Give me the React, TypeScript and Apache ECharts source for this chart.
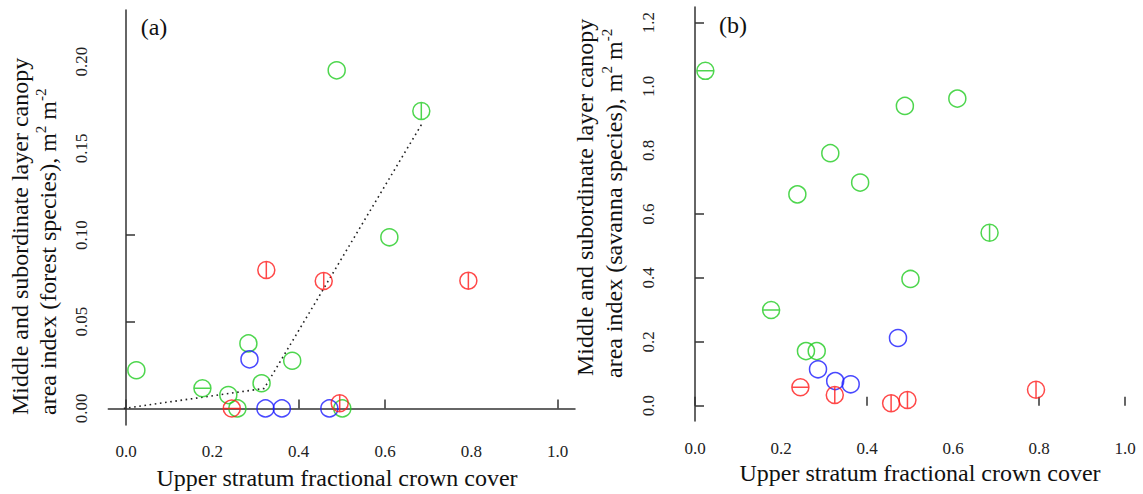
import { useEffect, useRef } from 'react';
import * as echarts from 'echarts';

// ---- tick labels / tick marks ----
const xLabelValues = [0, 0.2, 0.4, 0.6, 0.8, 1.0];
const yLabelValuesA = [0, 0.05, 0.1, 0.15, 0.2];
const yLabelValuesB = [0, 0.2, 0.4, 0.6, 0.8, 1.0, 1.2];
const xTickMarksA = [0, 0.4, 0.6, 1.0];
const yTickMarksA = [0.05, 0.1];
const xTickMarksB = [0, 0.4, 0.8, 1.0];
const yTickMarksB = [0, 0.2, 0.4, 0.6, 1.2];

// ---- panel (a): forest species ----
const aGreenPlain = [[0.024, 0.022], [0.237, 0.0077], [0.258, 0.0], [0.2835, 0.0375], [0.314, 0.0145], [0.385, 0.0275], [0.501, 0.0], [0.488, 0.195], [0.61, 0.0987]];
const aGreenH = [[0.177, 0.0116]];
const aGreenV = [[0.684, 0.1715]];
const aBlue = [[0.286, 0.0283], [0.323, 0.0], [0.361, 0.0], [0.471, 0.0]];
const aRedV = [[0.325, 0.0798], [0.458, 0.0735], [0.495, 0.003], [0.793, 0.0737]];
const aRedH = [[0.245, 0.0]];
const aFit = [[-0.005, 0.0], [0.32, 0.0115], [0.686, 0.1644]];

// ---- panel (b): savanna species ----
const bGreenPlain = [[0.488, 0.939], [0.61, 0.962], [0.3146, 0.791], [0.384, 0.699], [0.238, 0.662], [0.501, 0.397], [0.258, 0.171], [0.283, 0.171]];
const bGreenH = [[0.024, 1.049], [0.177, 0.3]];
const bGreenV = [[0.685, 0.542]];
const bBlue = [[0.472, 0.212], [0.286, 0.114], [0.326, 0.077], [0.362, 0.067]];
const bRedH = [[0.245, 0.0576]];
const bRedV = [[0.325, 0.0335], [0.456, 0.0075], [0.494, 0.018], [0.793, 0.05]];

const GREEN = '#22cc22';
const BLUE = '#1a1aff';
const RED = '#ff1a1a';
const FONT = "'Liberation Serif', 'Times New Roman', serif";

const CIRCLE = 'circle';
const VBAR = 'path://M10,0A10,10,0,1,1,10,20A10,10,0,1,1,10,0ZM10,0L10,20';
const HBAR = 'path://M10,0A10,10,0,1,1,10,20A10,10,0,1,1,10,0ZM0,10L20,10';

function pts(name: string, data: number[][], symbol: string, color: string, idx: number) {
  return {
    name,
    type: 'scatter',
    xAxisIndex: idx,
    yAxisIndex: idx,
    data,
    symbol,
    symbolSize: 17,
    itemStyle: { color: 'rgba(0,0,0,0)', borderColor: color, borderWidth: 1.5 },
    z: 3,
  };
}

function xAxisDef(idx: number, left: boolean, ticks: number[]) {
  return {
    type: 'value',
    gridIndex: idx,
    min: -0.041,
    max: left ? 1.04 : 1.039,
    axisLine: { show: left, lineStyle: { color: '#333', width: 1.5 } },
    axisTick: { show: true, inside: true, length: 9, customValues: ticks, lineStyle: { color: '#333', width: 1.5 } },
    axisLabel: {
      customValues: xLabelValues,
      formatter: (v: number) => v.toFixed(1),
      fontFamily: FONT,
      fontSize: 17,
      color: '#222',
      margin: left ? 18 : 19,
    },
    splitLine: { show: false },
  };
}

function yAxisDef(idx: number, min: number, max: number, labels: number[], ticks: number[], digits: number, margin: number) {
  return {
    type: 'value',
    gridIndex: idx,
    min,
    max,
    axisLine: { show: true, lineStyle: { color: '#333', width: 1.5 } },
    axisTick: { show: true, inside: true, length: 9, customValues: ticks, lineStyle: { color: '#333', width: 1.5 } },
    axisLabel: {
      customValues: labels,
      formatter: (v: number) => v.toFixed(digits),
      rotate: 90,
      fontFamily: FONT,
      fontSize: 17,
      color: '#222',
      margin,
    },
    splitLine: { show: false },
  };
}

function vText(x: number, y: number, text: string) {
  return {
    type: 'text',
    x,
    y,
    rotation: Math.PI / 2,
    style: {
      text,
      fontFamily: FONT,
      fontSize: 24,
      lineHeight: 30,
      fill: '#111',
      align: 'left',
      verticalAlign: 'middle',
      rich: {
        sup: { fontSize: 15, fontFamily: FONT, fill: '#111', verticalAlign: 'top', lineHeight: 30 },
      },
    },
  };
}

function hText(x: number, y: number, text: string, size = 24) {
  return {
    type: 'text',
    x,
    y,
    style: {
      text,
      fontFamily: FONT,
      fontSize: size,
      fill: '#111',
      align: 'center',
      verticalAlign: 'middle',
    },
  };
}

export default function App() {
  const ref = useRef<HTMLDivElement>(null);
  useEffect(() => {
    if (!ref.current) return;
    const chart = echarts.init(ref.current, null, { renderer: 'svg' });
    chart.setOption({
      animation: false,
      backgroundColor: '#ffffff',
      grid: [
        { left: 108.3, top: 10, width: 466.7, height: 415 },
        { left: 677.4, top: 7, width: 464.4, height: 414 },
      ],
      xAxis: [xAxisDef(0, true, xTickMarksA), xAxisDef(1, false, xTickMarksB)],
      yAxis: [
        yAxisDef(0, -0.00957, 0.2298, yLabelValuesA, yTickMarksA, 2, 18),
        yAxisDef(1, -0.048, 1.249, yLabelValuesB, yTickMarksB, 1, 20),
      ],
      series: [
        {
          name: 'fit',
          type: 'line',
          xAxisIndex: 0,
          yAxisIndex: 0,
          data: aFit,
          symbol: 'none',
          lineStyle: { color: '#222', width: 1.6, type: [1.6, 3.6] },
          z: 2,
        },
        pts('a green', aGreenPlain, CIRCLE, GREEN, 0),
        pts('a green h', aGreenH, HBAR, GREEN, 0),
        pts('a green v', aGreenV, VBAR, GREEN, 0),
        pts('a blue', aBlue, CIRCLE, BLUE, 0),
        pts('a red v', aRedV, VBAR, RED, 0),
        pts('a red h', aRedH, HBAR, RED, 0),
        pts('b green', bGreenPlain, CIRCLE, GREEN, 1),
        pts('b green h', bGreenH, HBAR, GREEN, 1),
        pts('b green v', bGreenV, VBAR, GREEN, 1),
        pts('b blue', bBlue, CIRCLE, BLUE, 1),
        pts('b red h', bRedH, HBAR, RED, 1),
        pts('b red v', bRedV, VBAR, RED, 1),
      ],
      graphic: [
        hText(154, 27, '(a)'),
        hText(733, 25, '(b)'),
        vText(20, 415, 'Middle and subordinate layer canopy'),
        vText(48, 415, 'area index (forest species), m{sup|2} m{sup|-2}'),
        vText(585, 376, 'Middle and subordinate layer canopy'),
        vText(614, 378, 'area index (savanna species), m{sup|2} m{sup|-2}'),
        hText(337, 478, 'Upper stratum fractional crown cover'),
        hText(920, 473, 'Upper stratum fractional crown cover'),
      ],
    });
    return () => chart.dispose();
  }, []);
  return (
    <div
      ref={ref}
      style={{ position: 'absolute', left: 0, top: 0, width: 1143, height: 494, background: '#fff' }}
    />
  );
}
